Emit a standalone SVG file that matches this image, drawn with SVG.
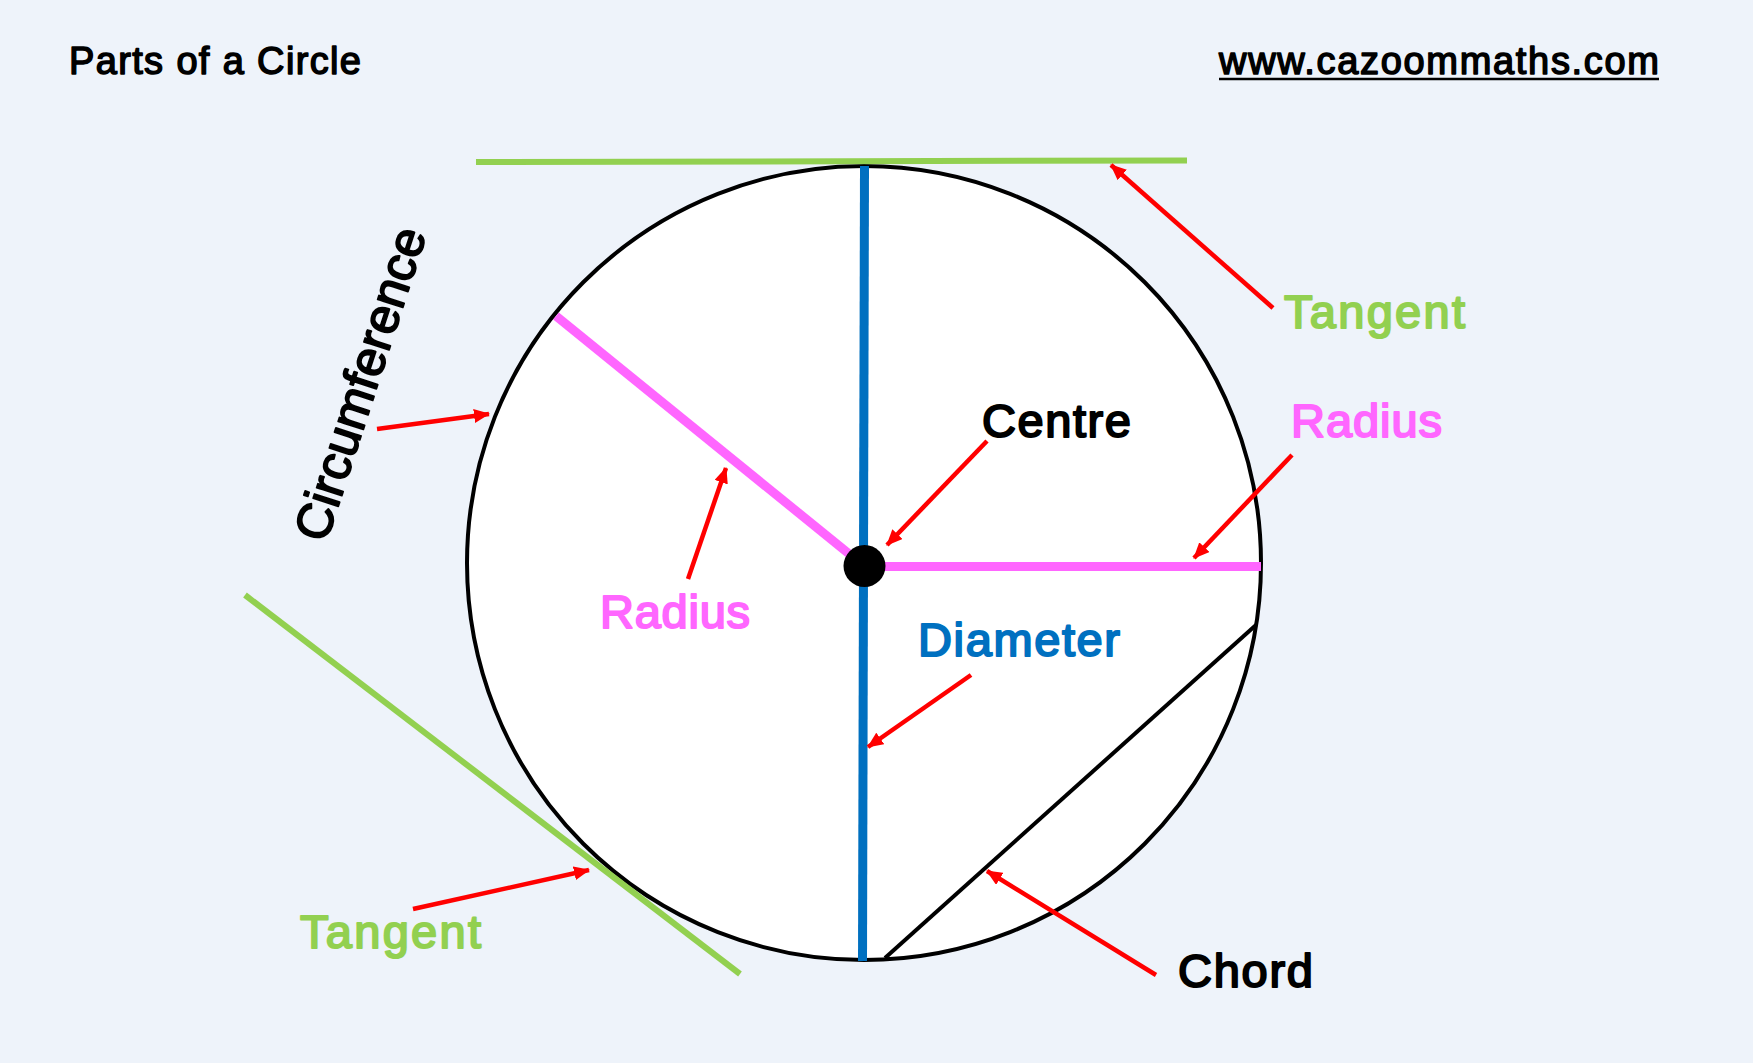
<svg xmlns="http://www.w3.org/2000/svg" width="1753" height="1063" viewBox="0 0 1753 1063">
<style>
text{font-family:"Liberation Sans",Arial,sans-serif;font-weight:400;stroke-linejoin:round}
.t{font-size:38px;fill:#000;stroke:#000;stroke-width:1.500}
.l{font-size:47px;stroke-width:2}
.g{fill:#92d050;stroke:#92d050}.p{fill:#ff66ff;stroke:#ff66ff}.b{fill:#0070c0;stroke:#0070c0}.k{fill:#000;stroke:#000}
.a{stroke:#f00;stroke-width:4.500;fill:none;marker-end:url(#ah)}
</style>
<defs><marker id="ah" markerUnits="userSpaceOnUse" markerWidth="16" markerHeight="14" refX="15" refY="7" orient="auto"><path d="M0 0L16 7L0 14z" fill="#f00"/></marker></defs>
<rect width="1753" height="1063" fill="#eef3fa"/>
<g id="title"><text class="t" x="69" y="73.500" textLength="292">Parts of a Circle</text></g>
<g id="url"><text class="t" x="1219" y="73.500" textLength="440">www.cazoommaths.com</text><line x1="1219" y1="79" x2="1659" y2="79" stroke="#000" stroke-width="2.500"/></g>
<g id="circle"><circle cx="864" cy="563" r="397" fill="#fff" stroke="#000" stroke-width="4"/></g>
<g id="chord"><line x1="885" y1="958" x2="1256" y2="625" stroke="#000" stroke-width="4"/></g>
<g id="diameter"><line x1="864.500" y1="166" x2="862.500" y2="961" stroke="#0070c0" stroke-width="9"/></g>
<g id="radii" stroke="#ff66ff" stroke-width="9"><line x1="556" y1="316" x2="864" y2="566"/><line x1="864" y1="566.500" x2="1261" y2="566.500"/></g>
<g id="centre"><circle cx="864.500" cy="566" r="21" fill="#000"/></g>
<g id="tangents" stroke="#92d050" stroke-width="6"><line x1="476" y1="162" x2="1187" y2="160.500"/><line x1="245" y1="595" x2="740" y2="974"/></g>
<g id="connectors">
<line class="a" x1="1273" y1="308" x2="1111" y2="165"/>
<line class="a" x1="987" y1="441" x2="887" y2="545"/>
<line class="a" x1="1292" y1="455" x2="1194" y2="558"/>
<line class="a" x1="688" y1="579" x2="726" y2="468"/>
<line class="a" x1="377" y1="429" x2="489" y2="414"/>
<line class="a" x1="971" y1="675" x2="868" y2="747"/>
<line class="a" x1="1156" y1="975" x2="987" y2="871"/>
<line class="a" x1="413" y1="909" x2="589" y2="870"/>
</g>
<g id="labels">
<text class="l g" x="1284" y="328" textLength="181">Tangent</text>
<text class="l k" x="982" y="437" textLength="149">Centre</text>
<text class="l p" x="1291" y="437" textLength="151">Radius</text>
<text class="l p" x="600" y="628" textLength="150">Radius</text>
<text class="l b" x="918" y="656" textLength="202">Diameter</text>
<text class="l g" x="300" y="948" textLength="181">Tangent</text>
<text class="l k" x="1178" y="987" textLength="135">Chord</text>
<text class="k" style="font-size:50px;stroke-width:1.800" transform="translate(326 544) rotate(-72)" textLength="326">Circumference</text>
</g>
</svg>
